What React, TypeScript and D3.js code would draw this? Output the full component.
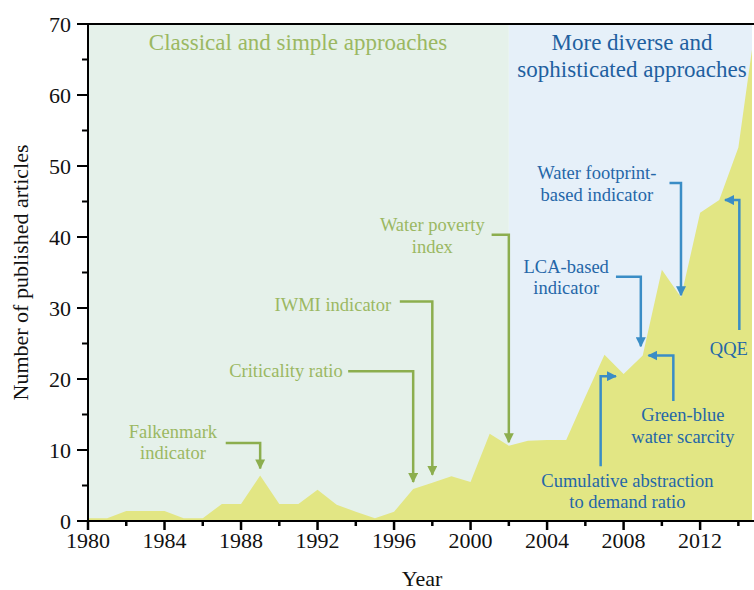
import React from "react";
import * as d3 from "d3";

const years = [1980,1981,1982,1983,1984,1985,1986,1987,1988,1989,1990,1991,1992,1993,1994,1995,1996,1997,1998,1999,2000,2001,2002,2003,2004,2005,2006,2007,2008,2009,2010,2011,2012,2013,2014,2015];
const articles = [0.4,0.4,1.4,1.4,1.4,0.4,0.4,2.4,2.4,6.4,2.4,2.4,4.4,2.3,1.3,0.4,1.3,4.5,5.4,6.3,5.5,12.3,10.6,11.3,11.4,11.4,17.5,23.4,20.7,23.3,35.4,31.5,43.4,45.2,52.6,72];
const xTicks = [1980,1984,1988,1992,1996,2000,2004,2008,2012];
const yTicks = [0,10,20,30,40,50,60,70];
const phaseTitles = ["Classical and simple approaches", "More diverse and", "sophisticated approaches"];

// annotations: label lines, label centre year / baseline value, elbow path in data space
type Ann = { lines: string[]; tx: number; ty: number; path: [number, number][]; kind: "g" | "b" };
const annotations: Ann[] = [
  { lines: ["Falkenmark", "indicator"], tx: 1984.44, ty: 11.73, path: [[1987.2, 11], [1989, 11], [1989, 7.4]], kind: "g" },
  { lines: ["Criticality ratio"], tx: 1990.35, ty: 20.28, path: [[1993.6, 21.1], [1997, 21.1], [1997, 5.5]], kind: "g" },
  { lines: ["IWMI indicator"], tx: 1992.8, ty: 29.6, path: [[1996.3, 30.9], [1998, 30.9], [1998, 6.5]], kind: "g" },
  { lines: ["Water poverty", "index"], tx: 1998.0, ty: 40.85, path: [[2001.1, 40.3], [2002, 40.3], [2002, 11.1]], kind: "g" },
  { lines: ["Water footprint-", "based indicator"], tx: 2006.6, ty: 48.1, path: [[2010.4, 47.6], [2011, 47.6], [2011, 31.8]], kind: "b" },
  { lines: ["LCA-based", "indicator"], tx: 2005.0, ty: 35.0, path: [[2007.6, 34.4], [2008.9, 34.4], [2008.9, 24.6]], kind: "b" },
  { lines: ["QQE"], tx: 2013.5, ty: 23.4, path: [[2014.05, 26.9], [2014.05, 45.2], [2013.3, 45.2]], kind: "b" },
  { lines: ["Green-blue", "water scarcity"], tx: 2011.1, ty: 14.08, path: [[2010.6, 16.9], [2010.6, 23.3], [2009.3, 23.3]], kind: "b" },
  { lines: ["Cumulative abstraction", "to demand ratio"], tx: 2008.2, ty: 4.83, path: [[2006.8, 7.7], [2006.8, 20.4], [2007.6, 20.4]], kind: "b" },
];

const W = 754, H = 590;
const left = 88, top = 24, bottom = 521, right = 752;
const FONT = "Liberation Serif, DejaVu Serif, serif";
const GREEN_TXT = "#9bb862";
const GREEN_ARR = "#8cae4e";
const BLUE_TXT = "#2466a8";
const BLUE_ARR = "#3a8dc6";
const tStyle = { fontFamily: FONT };

export default function App() {
  const x = d3.scaleLinear().domain([1980, 2015]).range([left, 757.5]);
  const y = d3.scaleLinear().domain([0, 70]).range([bottom, top]);
  const data = years.map((yr, i) => ({ yr, v: articles[i] }));
  const area = d3.area<{ yr: number; v: number }>().x(d => x(d.yr)).y0(y(0)).y1(d => y(d.v));
  const split = x(2002);
  const minorX = d3.range(1982, 2015, 4);
  const minorY = d3.range(5, 70, 10);
  const line = d3.line<[number, number]>().x(d => x(d[0])).y(d => y(d[1]));

  return (
    <svg width={W} height={H} style={{ position: "absolute", left: 0, top: 0, fontFamily: FONT }}>
      <defs>
        <clipPath id="plot"><rect x={left} y={top} width={right - left} height={bottom - top} /></clipPath>
        <marker id="ag" viewBox="0 0 10 10" refX="9" refY="5" markerWidth="4" markerHeight="4" orient="auto">
          <path d="M0,0 L10,5 L0,10 z" fill={GREEN_ARR} />
        </marker>
        <marker id="ab" viewBox="0 0 10 10" refX="9" refY="5" markerWidth="4" markerHeight="4" orient="auto">
          <path d="M0,0 L10,5 L0,10 z" fill={BLUE_ARR} />
        </marker>
      </defs>
      <rect width={W} height={H} fill="#fff" />
      <g clipPath="url(#plot)">
        <rect x={left} y={top} width={split - left} height={bottom - top} fill="#e5f1ea" />
        <rect x={split} y={top} width={right - split} height={bottom - top} fill="#e6f0f9" />
        <path d={area(data) || ""} fill="#e2e684" />
      </g>
      <text style={tStyle} x={298} y={49.5} fontSize={23} fill={GREEN_TXT} textAnchor="middle">{phaseTitles[0]}</text>
      <text style={tStyle} x={632} y={49.5} fontSize={23} fill="#1f60a0" textAnchor="middle">{phaseTitles[1]}</text>
      <text style={tStyle} x={632} y={77} fontSize={23} fill="#1f60a0" textAnchor="middle">{phaseTitles[2]}</text>
      {annotations.map((a, i) => {
        const col = a.kind === "g" ? GREEN_TXT : BLUE_TXT;
        const arr = a.kind === "g" ? GREEN_ARR : BLUE_ARR;
        return (
          <g key={i}>
            {a.lines.map((l, j) => (
              <text style={tStyle} key={j} x={x(a.tx)} y={y(a.ty) + j * 21.7} fontSize={18.5} fill={col} textAnchor="middle">{l}</text>
            ))}
            <path d={line(a.path) || ""} fill="none" stroke={arr} strokeWidth={2.5} markerEnd={`url(#a${a.kind})`} />
          </g>
        );
      })}
      <line x1={left} x2={right + 2} y1={top} y2={top} stroke="#000" strokeWidth={2} />
      <line x1={left} x2={left} y1={top} y2={bottom} stroke="#000" strokeWidth={2} />
      <line x1={left - 1} x2={right + 2} y1={bottom} y2={bottom} stroke="#000" strokeWidth={2} />
      {xTicks.map(t => (
        <g key={t}>
          <line x1={x(t)} x2={x(t)} y1={bottom} y2={bottom + 9} stroke="#000" strokeWidth={2.5} />
          <text style={tStyle} x={x(t)} y={548} fontSize={22} textAnchor="middle" fill="#111">{t}</text>
        </g>
      ))}
      {minorX.map(t => (
        <line key={t} x1={x(t)} x2={x(t)} y1={bottom} y2={bottom + 5} stroke="#000" strokeWidth={2.5} />
      ))}
      {yTicks.map(t => (
        <g key={t}>
          <line x1={left - 11} x2={left} y1={y(t)} y2={y(t)} stroke="#000" strokeWidth={2} />
          <text style={tStyle} x={71} y={y(t)} fontSize={22} textAnchor="end" dominantBaseline="central" fill="#111">{t}</text>
        </g>
      ))}
      {minorY.map(t => (
        <line key={t} x1={left - 6} x2={left} y1={y(t)} y2={y(t)} stroke="#000" strokeWidth={2} />
      ))}
      <text style={tStyle} x={422} y={586} fontSize={22} textAnchor="middle" fill="#111">Year</text>
      <text style={tStyle} transform={`translate(28,${(top + bottom) / 2}) rotate(-90)`} fontSize={22} textAnchor="middle" fill="#111">Number of published articles</text>
    </svg>
  );
}
